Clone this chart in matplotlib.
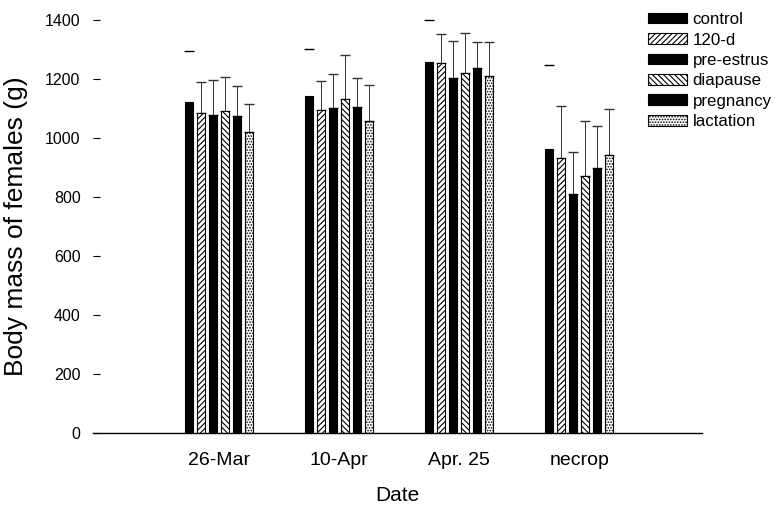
import matplotlib
matplotlib.use('Agg')
import matplotlib.pyplot as plt
import numpy as np

plt.rcParams['font.family'] = ['Liberation Sans', 'DejaVu Sans']
plt.rcParams['hatch.linewidth'] = 0.8

dates = ['26-Mar', '10-Apr', 'Apr. 25', 'necrop']
groups = ['control', '120-d', 'pre-estrus', 'diapause', 'pregnancy', 'lactation']

# mean body mass (g) per group, one list per date column
control    = [1122, 1141, 1256, 963]
d120       = [1083, 1095, 1252, 933]
preestrus  = [1077, 1100, 1203, 808]
diapause   = [1092, 1133, 1218, 869]
pregnancy  = [1075, 1106, 1238, 899]
lactation  = [1020, 1057, 1209, 941]

# top of the error bar (mean + SD)
control_top   = [1294, 1302, 1400, 1247]
d120_top      = [1188, 1193, 1352, 1108]
preestrus_top = [1195, 1215, 1328, 952]
diapause_top  = [1206, 1279, 1356, 1056]
pregnancy_top = [1174, 1203, 1324, 1041]
lactation_top = [1115, 1180, 1324, 1097]

means = [control, d120, preestrus, diapause, pregnancy, lactation]
tops = [control_top, d120_top, preestrus_top, diapause_top, pregnancy_top, lactation_top]

fig = plt.figure(figsize=(7.76, 5.07), dpi=100)
ax = fig.add_axes([0.12, 0.146, 0.785, 0.815])

x = np.arange(len(dates))
step = 0.1
width = 0.066
hatches = [None, '//////', None, '\\\\\\\\\\\\', None, '......']
faces = ['black', 'white', 'black', 'white', 'black', 'white']

for i in range(len(groups)):
    pos = x + (i - 2.5) * step
    ax.bar(pos, means[i], width, color=faces[i], edgecolor='black',
           hatch=hatches[i], linewidth=0.8, label=groups[i], zorder=2)
    err = np.array(tops[i]) - np.array(means[i])
    if i == 0:
        # control: only the cap shows
        ax.errorbar(pos, tops[i], xerr=0.042, fmt='none', ecolor='black',
                    elinewidth=1.0, clip_on=False)
    else:
        ax.errorbar(pos, means[i], yerr=[np.zeros(len(err)), err], fmt='none',
                    ecolor='#333333', elinewidth=0.7, capsize=3.8,
                    capthick=1.0, clip_on=False, zorder=1)

ax.set_xlim(-1.05, 4.025)
ax.set_ylim(0, 1400)
ax.set_yticks(np.arange(0, 1401, 200))
ax.set_xticks(x)
ax.set_xticklabels(dates, fontsize=14)
ax.tick_params(axis='x', length=0, pad=14)
ax.tick_params(axis='y', direction='in', length=5, labelsize=11.5, pad=9)

for s in ['top', 'right', 'left']:
    ax.spines[s].set_visible(False)
ax.spines['bottom'].set_linewidth(1.0)

ax.set_ylabel('Body mass of females (g)', fontsize=19, labelpad=12)
ax.set_xlabel('Date', fontsize=15, labelpad=12)

leg = ax.legend(loc='upper left', bbox_to_anchor=(0.8995, 1.035), frameon=False,
                fontsize=12.2, handlelength=2.3, handleheight=0.6,
                handletextpad=0.35, labelspacing=0.32, borderaxespad=0)

fig.savefig('out.png', dpi=100)
